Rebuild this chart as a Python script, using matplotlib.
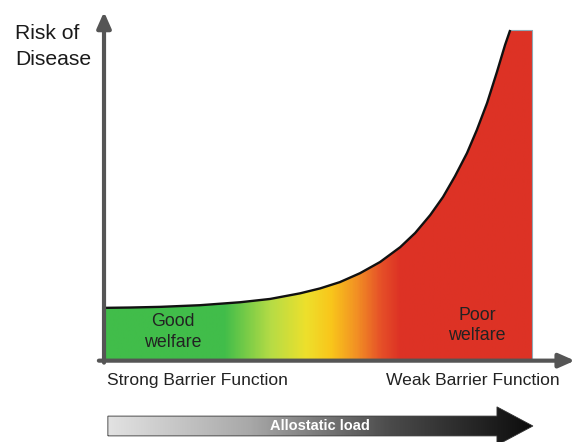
import numpy as np
import matplotlib
matplotlib.use("Agg")
import matplotlib.pyplot as plt
from matplotlib.colors import LinearSegmentedColormap
from matplotlib.patches import Polygon

plt.rcParams["font.family"] = ["Liberation Sans", "DejaVu Sans"]

# Risk curve (x = allostatic load, y = risk, both 0..1)
LOAD = [0.0, 0.061, 0.131, 0.224, 0.318, 0.388, 0.458, 0.505, 0.551, 0.598,
        0.645, 0.692, 0.727, 0.762, 0.792, 0.820, 0.848, 0.871, 0.895, 0.918,
        0.937, 0.949]
RISK = [0.158, 0.159, 0.161, 0.166, 0.175, 0.185, 0.202, 0.217, 0.236, 0.263,
        0.297, 0.342, 0.385, 0.439, 0.494, 0.557, 0.627, 0.697, 0.779, 0.873,
        0.955, 1.0]

# welfare gradient along the load axis
GRAD_POS = [0.0, 0.28, 0.39, 0.47, 0.53, 0.59, 0.645, 0.69, 1.0]
GRAD_COL = ["#41BD4A", "#41BD4A", "#B7DC45", "#EDE02C", "#F9C61B",
            "#F29024", "#E65128", "#DD3325", "#DD3225"]

AXIS_COL = "#555555"
TXT_COL = "#222222"

fig = plt.figure(figsize=(5.77, 4.42), dpi=100)
ax = fig.add_axes([0, 0, 1, 1])
ax.set_axis_off()

# gradient-filled area under the curve
cmap = LinearSegmentedColormap.from_list("welfare", list(zip(GRAD_POS, GRAD_COL)))
grad = np.linspace(0, 1, 600).reshape(1, -1)
im = ax.imshow(grad, extent=[0, 1, 0, 1], cmap=cmap, aspect="auto",
               origin="lower", zorder=1, interpolation="bilinear")
verts = [(LOAD[0], 0)] + list(zip(LOAD, RISK)) + [(1, 1), (1, 0)]
area = Polygon(verts, closed=True, facecolor="none", edgecolor="none")
ax.add_patch(area)
im.set_clip_path(area)

ax.plot(LOAD, RISK, color="#111111", lw=1.7, zorder=3,
        solid_joinstyle="round", solid_capstyle="butt")
ax.plot([LOAD[-1], 1, 1], [1, 1, 0], color="#8FA9B5", lw=0.8, zorder=2)

# axes with arrow heads
arrow = dict(arrowstyle="-|>,head_length=0.95,head_width=0.42", lw=3,
             color=AXIS_COL, shrinkA=0, shrinkB=0, mutation_scale=10)
ax.annotate("", xy=(0, 1.055), xytext=(0, -0.008), arrowprops=arrow, zorder=4)
ax.annotate("", xy=(1.1, -0.002), xytext=(-0.012, -0.002), arrowprops=arrow, zorder=4)

ax.text(-0.208, 0.973, "Risk of", fontsize=15.2, ha="left", va="baseline", color="#1a1a1a")
ax.text(-0.208, 0.894, "Disease", fontsize=15.2, ha="left", va="baseline", color="#1a1a1a")
ax.text(0.161, 0.103, "Good", fontsize=12.8, ha="center", va="baseline", color=TXT_COL)
ax.text(0.161, 0.039, "welfare", fontsize=12.8, ha="center", va="baseline", color=TXT_COL)
ax.text(0.871, 0.121, "Poor", fontsize=12.8, ha="center", va="baseline", color=TXT_COL)
ax.text(0.871, 0.061, "welfare", fontsize=12.8, ha="center", va="baseline", color=TXT_COL)
ax.text(0.007, -0.076, "Strong Barrier Function", fontsize=12.6, ha="left",
        va="baseline", color=TXT_COL)
ax.text(1.065, -0.076, "Weak Barrier Function", fontsize=12.6, ha="right",
        va="baseline", color=TXT_COL)

# allostatic load arrow with grey-to-black gradient
gray = LinearSegmentedColormap.from_list("load", ["#E2E2E2", "#A8A8A8", "#4a4a4a", "#0c0c0c"])
x0, xb, xt = 0.009, 0.918, 1.002
yc, hb, hh = -0.2, 0.03, 0.058
arrow_verts = [(x0, yc - hb), (xb, yc - hb), (xb, yc - hh), (xt, yc),
               (xb, yc + hh), (xb, yc + hb), (x0, yc + hb)]
shaft = Polygon(arrow_verts, closed=True, facecolor="none",
                edgecolor="#333333", lw=0.6, zorder=3)
ax.add_patch(shaft)
gim = ax.imshow(grad, extent=[x0, xt, yc - hh, yc + hh], cmap=gray,
                aspect="auto", origin="lower", zorder=2, interpolation="bilinear")
gim.set_clip_path(shaft)
ax.text(0.505, yc, "Allostatic load", fontsize=10.5, fontweight="bold",
        color="white", ha="center", va="center", zorder=4)

ax.set_xlim(-0.243, 1.105)
ax.set_ylim(-0.2485, 1.0909)

fig.savefig("out.png", dpi=100)
